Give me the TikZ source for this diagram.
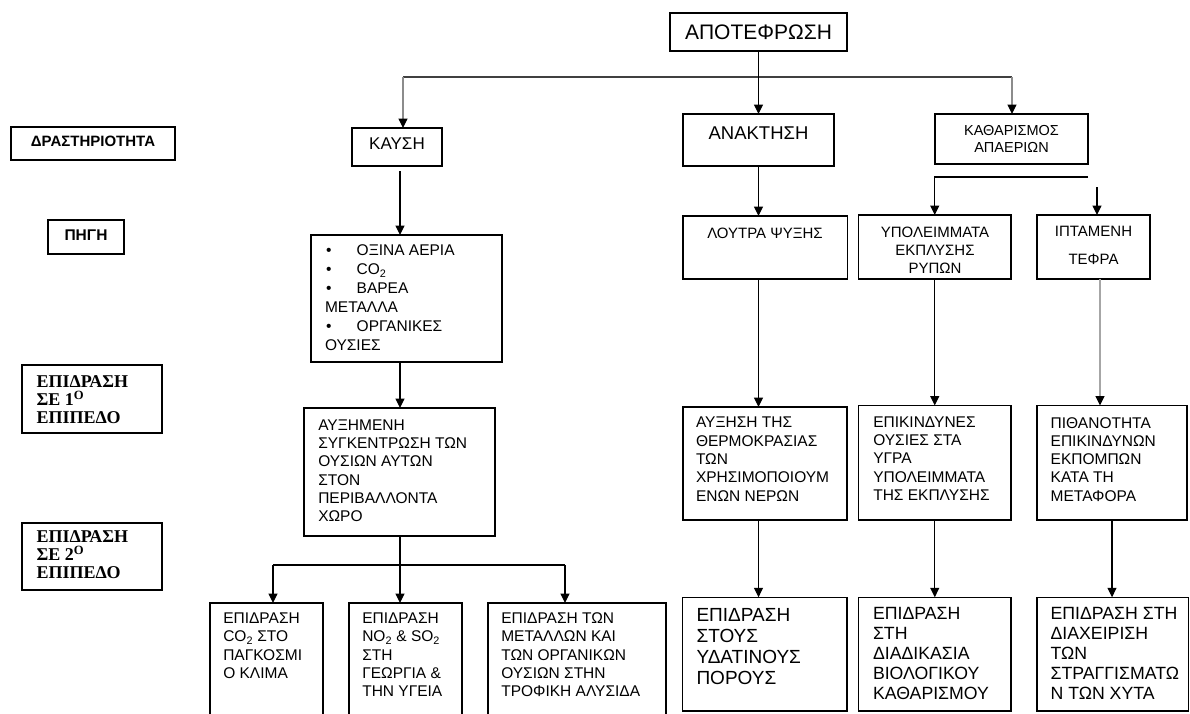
\documentclass[tikz,border=0pt]{standalone}
\usepackage{fontspec}
\setmainfont{Liberation Sans}
\newfontfamily\labelserif{Liberation Serif}
\usetikzlibrary{arrows.meta}

\newcommand{\fs}[2]{\fontsize{#1}{#2}\selectfont}
\newcommand{\blt}{\makebox[31.7pt][l]{\hspace{1pt}\textbullet}}

\tikzset{
  box/.style={draw, line width=1.1pt, inner sep=0pt, outer sep=0pt, anchor=north west},
  txt/.style={inner sep=0pt, outer sep=0pt, align=left, anchor=north west},
  arr/.style={-{Triangle[width=9pt,length=9.5pt]}, line width=1.2pt},
  arrg/.style={-{Triangle[width=9pt,length=9.5pt,black]}, line width=1.2pt, black!45},
}

\begin{document}
\begin{tikzpicture}[x=1pt, y=-1pt]
    \useasboundingbox (0,0) rectangle (1190,713);

    % left column labels
    \node[box, minimum width=164pt, minimum height=33pt, font=\bfseries\fs{15}{18}, text depth=5pt] (drast) at (11,127) {ΔΡΑΣΤΗΡΙΟΤΗΤΑ};
    \node[box, minimum width=76pt, minimum height=34pt, font=\bfseries\fs{15.5}{18}, text depth=4pt] (pigi) at (48,220) {ΠΗΓΗ};
    \node[box, minimum width=140pt, minimum height=68pt] (epi1) at (22,365) {};
    \node[txt, font=\labelserif\bfseries\fs{18}{18}] (epi1t) at (36.7,375.8) {ΕΠΙΔΡΑΣΗ\\ΣΕ 1\textsuperscript{O}\\ΕΠΙΠΕΔΟ};
    \node[box, minimum width=140pt, minimum height=67pt] (epi2) at (22,523) {};
    \node[txt, font=\labelserif\bfseries\fs{18}{18}] (epi2t) at (36.7,530.8) {ΕΠΙΔΡΑΣΗ\\ΣΕ 2\textsuperscript{O}\\ΕΠΙΠΕΔΟ};

    % activity
    \node[box, minimum width=177pt, minimum height=38pt, font=\fs{21}{24}] (apot) at (670,13) {ΑΠΟΤΕΦΡΩΣΗ};
    \node[box, minimum width=90pt, minimum height=38pt, font=\fs{17}{20}, text depth=6pt] (kaysi) at (352,128) {ΚΑΥΣΗ};
    \node[box, minimum width=151pt, minimum height=52pt, font=\fs{18.5}{22}, text depth=14pt] (anakt) at (683,114) {ΑΝΑΚΤΗΣΗ};
    \node[box, minimum width=153pt, minimum height=50pt, font=\fs{14.5}{17}, align=center] (kathar) at (935,114) {ΚΑΘΑΡΙΣΜΟΣ\\ΑΠΑΕΡΙΩΝ};

    % sources
    \node[box, minimum width=191pt, minimum height=127pt] (aeria) at (311,235) {};
    \node[txt, font=\fs{15.5}{19}] (aeriat) at (325,244.8) {\blt ΟΞΙΝΑ ΑΕΡΙΑ\\\blt CO\textsubscript{2}\\\blt ΒΑΡΕΑ\\ΜΕΤΑΛΛΑ\\\blt ΟΡΓΑΝΙΚΕΣ\\ΟΥΣΙΕΣ};
    \node[box, minimum width=164.5pt, minimum height=63pt] (loutra) at (683,216) {};
    \node[txt, anchor=base, font=\fs{15}{18}] (loutrat) at (765,238.7) {ΛΟΥΤΡΑ ΨΥΞΗΣ};
    \node[box, minimum width=152.5pt, minimum height=64pt] (ypol) at (858.5,215) {};
    \node[txt, anchor=north, align=center, font=\fs{15}{18}] (ypolt) at (935,227.3) {ΥΠΟΛΕΙΜΜΑΤΑ\\ΕΚΠΛΥΣΗΣ\\ΡΥΠΩΝ};
    \node[box, minimum width=113pt, minimum height=64pt] (iptam) at (1037,215) {};
    \node[txt, anchor=north, align=center, font=\fs{15}{18}] (iptamt) at (1093.5,226.3) {ΙΠΤΑΜΕΝΗ\\[9.6pt]ΤΕΦΡΑ};

    % first level
    \node[box, minimum width=191pt, minimum height=128pt] (sygk) at (304,408) {};
    \node[txt, font=\fs{15.5}{18.3}] (sygkt) at (318.3,419.5) {ΑΥΞΗΜΕΝΗ\\ΣΥΓΚΕΝΤΡΩΣΗ ΤΩΝ\\ΟΥΣΙΩΝ ΑΥΤΩΝ\\ΣΤΟΝ\\ΠΕΡΙΒΑΛΛΟΝΤΑ\\ΧΩΡΟ};
    \node[box, minimum width=164pt, minimum height=113pt] (therm) at (683,407) {};
    \node[txt, font=\fs{15.5}{18.3}] (thermt) at (696,417.2) {ΑΥΞΗΣΗ ΤΗΣ\\ΘΕΡΜΟΚΡΑΣΙΑΣ\\ΤΩΝ\\ΧΡΗΣΙΜΟΠΟΙΟΥΜ\\ΕΝΩΝ ΝΕΡΩΝ};
    \node[box, minimum width=152.5pt, minimum height=114.5pt] (epikin) at (858.5,405.5) {};
    \node[txt, font=\fs{15.5}{18.3}] (epikint) at (873.3,416.5) {ΕΠΙΚΙΝΔΥΝΕΣ\\ΟΥΣΙΕΣ ΣΤΑ\\ΥΓΡΑ\\ΥΠΟΛΕΙΜΜΑΤΑ\\ΤΗΣ ΕΚΠΛΥΣΗΣ};
    \node[box, minimum width=150pt, minimum height=114.5pt] (pithan) at (1037,405.5) {};
    \node[txt, font=\fs{15.5}{18.3}] (pithant) at (1050.7,417.2) {ΠΙΘΑΝΟΤΗΤΑ\\ΕΠΙΚΙΝΔΥΝΩΝ\\ΕΚΠΟΜΠΩΝ\\ΚΑΤΑ ΤΗ\\ΜΕΤΑΦΟΡΑ};

    % second level
    \foreach \nm/\x/\w/\lab in {klima/210/113/{ΕΠΙΔΡΑΣΗ\\CO\textsubscript{2} ΣΤΟ\\ΠΑΓΚΟΣΜΙ\\Ο ΚΛΙΜΑ},
                               ygeia/349/113/{ΕΠΙΔΡΑΣΗ\\NO\textsubscript{2} \& SO\textsubscript{2}\\ΣΤΗ\\ΓΕΩΡΓΙΑ \&\\ΤΗΝ ΥΓΕΙΑ},
                               trofi/488/178/{ΕΠΙΔΡΑΣΗ ΤΩΝ\\ΜΕΤΑΛΛΩΝ ΚΑΙ\\ΤΩΝ ΟΡΓΑΝΙΚΩΝ\\ΟΥΣΙΩΝ ΣΤΗΝ\\ΤΡΟΦΙΚΗ ΑΛΥΣΙΔΑ}} {
        \node[box, minimum width=\w pt, minimum height=125pt] (\nm) at (\x,603) {};
        \node[txt, font=\fs{15.5}{18.3}] (\nm t) at (\x+13.3,612.8) {\lab};
    }
    \node[box, minimum width=164.3pt, minimum height=113.7pt] (ydat) at (682.7,597.3) {};
    \node[txt, font=\fs{19}{21}] (ydatt) at (696.5,608.2) {ΕΠΙΔΡΑΣΗ\\ΣΤΟΥΣ\\ΥΔΑΤΙΝΟΥΣ\\ΠΟΡΟΥΣ};
    \node[box, minimum width=152.2pt, minimum height=113.7pt] (biol) at (858.8,597.3) {};
    \node[txt, font=\fs{17.7}{20.1}] (biolt) at (873,607) {ΕΠΙΔΡΑΣΗ\\ΣΤΗ\\ΔΙΑΔΙΚΑΣΙΑ\\ΒΙΟΛΟΓΙΚΟΥ\\ΚΑΘΑΡΙΣΜΟΥ};
    \node[box, minimum width=151.5pt, minimum height=113.7pt] (xyta) at (1037,597.3) {};
    \node[txt, font=\fs{17.7}{20.1}] (xytat) at (1050.6,607) {ΕΠΙΔΡΑΣΗ ΣΤΗ\\ΔΙΑΧΕΙΡΙΣΗ\\ΤΩΝ\\ΣΤΡΑΓΓΙΣΜΑΤΩ\\Ν ΤΩΝ ΧΥΤΑ};

    % connectors
    \coordinate (hl) at (403,77);
    \coordinate (hr) at (1012,77);
    \coordinate (ca) at (400,0);
    \coordinate (bl) at (273,565);
    \coordinate (br) at (565,565);
    \coordinate (kr) at (1088,177);
    \coordinate (kt) at (1097,187);
    \coordinate (ic) at (1100,0);

    \draw[line width=1.2pt, black!75] (hl) -- (hr);
    \draw[arrg] (hl) -- (hl |- kaysi.north);
    \draw[arrg] (hr) -- (hr |- kathar.north);
    \draw[arr] (apot.south) -- (anakt.north);
    \draw[arr] (anakt.south) -- (anakt.south |- loutra.north);
    \draw[arr] (loutra.south -| anakt.south) -- (therm.north -| anakt.south);
    \draw[arr] (therm.south -| anakt.south) -- (ydat.north -| anakt.south);

    \draw[arr] (kr) -| (ypol.north);
    \draw[arr] (kt) -- (kt |- iptam.north);
    \draw[arr] (ypol.south) -- (ypol.south |- epikin.north);
    \draw[arr] (epikin.south -| ypol.south) -- (biol.north -| ypol.south);
    \draw[arrg, black!35] (iptam.south -| ic) -- (pithan.north -| ic);
    \draw[arr] (pithan.south) -- (pithan.south |- xyta.north);

    \draw[arr] ([yshift=-5pt]kaysi.south -| ca) -- (aeria.north -| ca);
    \draw[arr] (aeria.south -| ca) -- (sygk.north -| ca);
    \draw[arr] (sygk.south -| ca) -- (ygeia.north -| ca);
    \draw[line width=1.2pt] (bl) -- (br);
    \draw[arr] (bl) -- (bl |- klima.north);
    \draw[arr] (br) -- (br |- trofi.north);
\end{tikzpicture}
\end{document}
